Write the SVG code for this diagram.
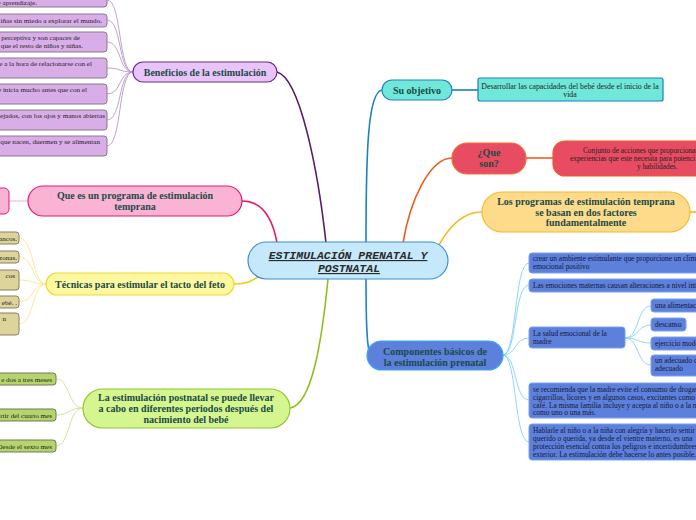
<svg xmlns="http://www.w3.org/2000/svg" width="696" height="520" viewBox="0 0 696 520">
<style>
.nt{font-family:"Liberation Serif","DejaVu Serif",serif;font-weight:bold;font-size:10px;fill:#1a4a48;text-anchor:middle}
.ct{font-family:"Liberation Mono","DejaVu Sans Mono",monospace;font-weight:bold;font-style:italic;font-size:11.5px;fill:#2a2a2a;text-anchor:middle;text-decoration:underline}
.st{font-family:"Liberation Serif","DejaVu Serif",serif;font-size:7.3px;fill:#222}
.se{font-family:"Liberation Serif","DejaVu Serif",serif;font-size:7.1px;fill:#222;text-anchor:end}
.bt{font-family:"Liberation Serif","DejaVu Serif",serif;font-size:7.4px;fill:#141838}
.main{fill:none;stroke-width:1.6}
.sub{fill:none;stroke-width:0.9}
.pb{fill:#d9aee8;stroke:#8a7a8a;stroke-width:1}
.yb{fill:#dcd49a;stroke:#8a8060;stroke-width:1}
.gb{fill:#b5d56c;stroke:#707a60;stroke-width:1}
.bb{fill:#5d80dc;stroke:#7aa0f0;stroke-width:1}
</style>
<rect width="696" height="520" fill="#ffffff"/>
<g id="connectors">
<path class="main" stroke="#5a1a6a" d="M326,243 C318,170 300,78 277,72"/>
<path class="main" stroke="#e8186a" d="M277,243 C272,215 260,201 242,201"/>
<path class="main" stroke="#f0d020" d="M258,277 C250,282 245,284 234,284"/>
<path class="main" stroke="#8cc020" d="M328,279 C322,340 312,405 290,408"/>
<path class="main" stroke="#1a80c0" d="M366,242 C366,150 368,92 382,90"/>
<path class="main" stroke="#f05a20" d="M403,243 C410,200 430,158 452,158"/>
<path class="main" stroke="#f8b820" d="M439,245 C450,225 465,212 482,212"/>
<path class="main" stroke="#1a80d0" d="M366,279 C366,300 366,340 369,350"/>
<path class="main" stroke="#1a80c0" stroke-width="2" d="M452,90 L478,90"/>
<path class="main" stroke="#f05a20" stroke-width="2" d="M526,158 L553,158"/>
<path class="main" stroke="#f8b820" d="M690,212 L696,212"/>
<path class="sub" stroke="#f8a0c8" d="M9,201 L28,201"/>
<g stroke="#b898c8">
<path class="sub" d="M133,72 C118,72 122,0 107,0"/>
<path class="sub" d="M133,72 C118,72 122,20 107,20"/>
<path class="sub" d="M133,72 C118,72 122,42 107,42"/>
<path class="sub" d="M133,72 C118,72 122,68 107,68"/>
<path class="sub" d="M133,72 C118,72 122,94 107,94"/>
<path class="sub" d="M133,72 C118,72 122,120 107,120"/>
<path class="sub" d="M133,72 C118,72 122,146 107,146"/>
</g>
<g stroke="#f4e890">
<path class="sub" d="M46,284 C32,284 34,238 19,238"/>
<path class="sub" d="M46,284 C32,284 34,257 19,257"/>
<path class="sub" d="M46,284 C32,284 34,280 19,280"/>
<path class="sub" d="M46,284 C32,284 34,302 19,302"/>
<path class="sub" d="M46,284 C32,284 34,324 19,324"/>
</g>
<g stroke="#c8e098">
<path class="sub" d="M83,408 C68,408 70,379 56,379"/>
<path class="sub" d="M83,408 C68,408 70,415 56,415"/>
<path class="sub" d="M83,408 C68,408 70,446 56,446"/>
</g>
<g stroke="#80d0f8">
<path class="sub" d="M503,355 C517,355 514,263 529,263"/>
<path class="sub" d="M503,355 C517,355 514,285 529,285"/>
<path class="sub" d="M503,355 C517,355 514,338 529,338"/>
<path class="sub" d="M503,355 C517,355 514,400 529,400"/>
<path class="sub" d="M503,355 C517,355 514,442 529,442"/>
<path class="sub" d="M625,338 C639,338 637,306 651,306"/>
<path class="sub" d="M625,338 C639,338 637,325 651,325"/>
<path class="sub" d="M625,338 C639,338 637,343 651,343"/>
<path class="sub" d="M625,338 C639,338 637,365 651,365"/>
</g>
</g>
<g id="central">
<rect x="248" y="242" width="200" height="37" rx="18.5" fill="#c5e9fb" stroke="#3a90d0" stroke-width="1.2"/>
<text class="ct" x="348" y="259">ESTIMULACIÓN PRENATAL Y </text>
<text class="ct" x="349" y="272">POSTNATAL</text>
</g>
<g id="beneficios">
<rect x="133" y="62" width="144" height="20" rx="10" fill="#e8c4f8" stroke="#6b2a8a" stroke-width="1.2"/>
<text class="nt" x="205" y="75.5">Beneficios de la estimulación</text>
</g>
<g id="beneficios-hijos">
<rect class="pb" x="-10" y="-6" width="117" height="13" rx="3"/>
<text class="se" x="37" y="4.5">e aprendizaje.</text>
<rect class="pb" x="-10" y="14" width="117" height="13" rx="3"/>
<text class="se" x="102" y="22.5">iñas sin miedo a explorar el mundo.</text>
<rect class="pb" x="-10" y="32" width="117" height="20" rx="3"/>
<text class="se" x="80" y="40">perceptiva y son capaces de</text>
<text class="se" x="83" y="47.5">que el resto de niños y niñas.</text>
<rect class="pb" x="-10" y="58" width="117" height="20" rx="3"/>
<text class="se" x="92" y="66">e a la hora de relacionarse con el</text>
<rect class="pb" x="-10" y="84" width="117" height="20" rx="3"/>
<text class="se" x="87" y="92">e inicia mucho antes que con el</text>
<rect class="pb" x="-10" y="110" width="117" height="20" rx="3"/>
<text class="se" x="105" y="118">ejados, con los ojos y manos abiertas</text>
<rect class="pb" x="-10" y="136" width="117" height="20" rx="3"/>
<text class="se" x="100" y="144">que nacen, duermen y se alimentan</text>
</g>
<g id="programa">
<rect x="28" y="186" width="214" height="30" rx="15" fill="#fbb3d3" stroke="#e81870" stroke-width="1.2"/>
<text class="nt" x="135" y="199">Que es un programa de estimulación</text>
<text class="nt" x="135" y="210">temprana</text>
<rect x="-12" y="188" width="21" height="26" rx="5" fill="#fbb3d3" stroke="#e81870" stroke-width="1"/>
</g>
<g id="tecnicas">
<rect x="46" y="273" width="188" height="22" rx="11" fill="#fdf8a0" stroke="#f0d830" stroke-width="1.2"/>
<text class="nt" x="140" y="287.5">Técnicas para estimular el tacto del feto</text>
</g>
<g id="tecnicas-hijos">
<rect class="yb" x="-10" y="232" width="29" height="12" rx="3"/>
<text class="se" x="17" y="240.5">ancos.</text>
<rect class="yb" x="-10" y="251" width="29" height="12" rx="3"/>
<text class="se" x="17" y="259.5">zonas.</text>
<rect class="yb" x="-10" y="270" width="29" height="20" rx="3"/>
<text class="se" x="15" y="278">cos</text>
<rect class="yb" x="-10" y="296" width="29" height="12" rx="3"/>
<text class="se" x="17" y="304.5">ebé. .</text>
<rect class="yb" x="-10" y="313" width="29" height="22" rx="3"/>
<text class="se" x="6" y="321">n</text>
</g>
<g id="postnatal">
<rect x="83" y="389" width="207" height="39" rx="19.5" fill="#d5f58f" stroke="#90c830" stroke-width="1.2"/>
<text class="nt" x="186" y="401">La estimulación postnatal se puede llevar</text>
<text class="nt" x="186" y="412">a cabo en diferentes periodos después del</text>
<text class="nt" x="186" y="423">nacimiento del bebé</text>
</g>
<g id="postnatal-hijos">
<rect class="gb" x="-10" y="373" width="66" height="12" rx="3"/>
<text class="se" x="52" y="381.5">e dos a tres meses</text>
<rect class="gb" x="-10" y="409" width="66" height="12" rx="3"/>
<text class="se" x="52" y="417.5">rtir del cuarto mes</text>
<rect class="gb" x="-10" y="440" width="66" height="12" rx="3"/>
<text class="se" x="52" y="448.5">Desde el sexto mes</text>
</g>
<g id="objetivo">
<rect x="382" y="80" width="70" height="20" rx="10" fill="#6fe8da" stroke="#2080c0" stroke-width="1.2"/>
<text class="nt" x="417" y="93.5">Su objetivo</text>
<rect x="478" y="78" width="185" height="23" rx="2" fill="#6fe8da" stroke="#1a80c0" stroke-width="1.2"/>
<text x="570" y="88.5" text-anchor="middle" font-family="'Liberation Serif',serif" font-size="7.8" fill="#222">Desarrollar las capacidades del bebé desde el inicio de la</text>
<text x="570" y="97" text-anchor="middle" font-family="'Liberation Serif',serif" font-size="7.8" fill="#222">vida</text>
</g>
<g id="queson">
<rect x="452" y="143" width="74" height="31" rx="15" fill="#e84c62" stroke="#f07030" stroke-width="1.2"/>
<text class="nt" x="489" y="156">¿Que</text>
<text class="nt" x="489" y="167">son?</text>
<rect x="553" y="141" width="170" height="35" rx="12" fill="#e84c62" stroke="#f05a20" stroke-width="1.2"/>
<text class="st" x="583" y="153">Conjunto de acciones que proporcionan</text>
<text class="st" x="570" y="161">experiencias que este necesita para potenci</text>
<text class="st" x="637" y="169">y habilidades.</text>
</g>
<g id="programas">
<rect x="482" y="192" width="208" height="40" rx="20" fill="#fddb8a" stroke="#f8b828" stroke-width="1.2"/>
<text class="nt" x="586" y="205">Los programas de estimulación temprana</text>
<text class="nt" x="586" y="215.5">se basan en dos factores</text>
<text class="nt" x="586" y="226">fundamentalmente</text>
</g>
<g id="componentes">
<rect x="367" y="341" width="136" height="29" rx="14.5" fill="#5d80dc" stroke="#38a8f0" stroke-width="1.2"/>
<text class="nt" x="435" y="354.5">Componentes básicos de</text>
<text class="nt" x="435" y="365.5">la estimulación prenatal</text>
</g>
<g id="componentes-hijos">
<rect class="bb" x="529" y="253" width="180" height="20" rx="3"/>
<text class="bt" x="533" y="261">crear un ambiente estimulante que proporcione un clima</text>
<text class="bt" x="533" y="269">emocional positivo</text>
<rect class="bb" x="529" y="279" width="180" height="13" rx="3"/>
<text class="bt" x="533" y="287.5">Las emociones maternas causan alteraciones a nivel inter</text>
<rect class="bb" x="529" y="327" width="96" height="21" rx="3"/>
<text class="bt" x="533" y="336">La salud emocional de la</text>
<text class="bt" x="533" y="344">madre</text>
<rect class="bb" x="651" y="299" width="60" height="13" rx="3"/>
<text class="bt" x="655" y="307.5">una alimentac</text>
<rect class="bb" x="651" y="318" width="35" height="13" rx="3"/>
<text class="bt" x="655" y="326.5">descanso</text>
<rect class="bb" x="651" y="337" width="60" height="13" rx="3"/>
<text class="bt" x="655" y="345.5">ejercicio mode</text>
<rect class="bb" x="651" y="355" width="60" height="21" rx="3"/>
<text class="bt" x="655" y="363">un adecuado c</text>
<text class="bt" x="655" y="371">adecuado</text>
<rect class="bb" x="529" y="383" width="180" height="35" rx="3"/>
<text class="bt" x="533" y="391.5">se recomienda que la madre evite el consumo de drogas,</text>
<text class="bt" x="533" y="399.5">cigarrillos, licores y en algunos casos, excitantes como el</text>
<text class="bt" x="533" y="407.5">café. La misma familia incluye y acepta al niño o a la niña</text>
<text class="bt" x="533" y="415">como uno o una más.</text>
<rect class="bb" x="529" y="424" width="180" height="36" rx="3"/>
<text class="bt" x="533" y="433">Hablarle al niño o a la niña con alegría y hacerlo sentir</text>
<text class="bt" x="533" y="441">querido o querida, ya desde el vientre materno, es una</text>
<text class="bt" x="533" y="449">protección esencial contra los peligros e incertidumbres d</text>
<text class="bt" x="533" y="457">exterior. La estimulación debe hacerse lo antes posible.</text>
</g>
</svg>
